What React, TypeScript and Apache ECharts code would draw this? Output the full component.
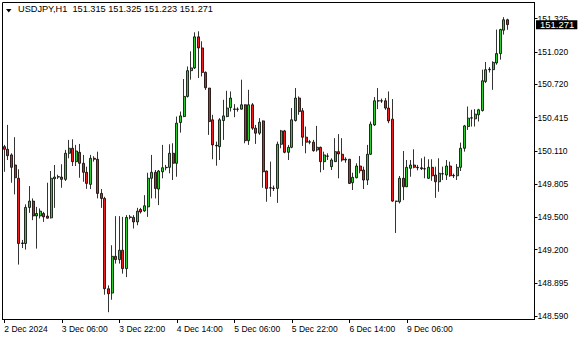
import React, { useEffect, useRef } from "react";
import * as echarts from "echarts";

const symbol = "USDJPY,H1";

const opens = [150.148,150.124,150.072,149.979,149.857,149.257,149.257,149.589,149.647,149.511,149.511,149.533,149.509,149.493,149.853,149.868,149.868,149.847,150.087,150.133,150.010,150.096,149.995,149.912,149.801,150.041,150.032,149.718,149.672,148.841,148.801,149.139,149.109,149.195,149.026,149.497,149.497,149.456,149.570,149.557,149.594,149.857,149.912,149.758,149.917,149.954,149.958,150.087,149.995,150.370,150.425,150.610,150.847,150.872,151.158,151.056,150.831,150.687,150.395,150.160,150.148,150.388,150.425,150.508,150.495,150.491,150.493,150.533,150.203,150.533,150.318,150.272,150.385,149.924,149.770,149.767,149.764,150.170,150.293,150.096,150.142,150.388,150.595,150.478,150.235,150.189,150.189,150.118,150.142,150.010,150.062,149.964,150.010,150.102,150.078,150.025,150.032,149.816,149.862,149.970,149.933,149.841,150.078,150.348,150.570,150.568,150.570,150.503,150.401,149.647,149.641,149.857,149.779,149.949,149.979,149.958,149.954,149.945,149.857,149.958,149.887,149.825,149.899,149.887,149.970,149.880,149.880,149.958,150.133,150.333,150.413,150.404,150.441,150.480,150.748,150.856,150.856,150.918,151.004,151.219,151.315];
const highs = [150.164,150.348,150.087,150.235,149.940,149.290,149.617,149.785,149.672,149.594,149.580,149.548,149.816,149.924,149.979,149.890,149.986,150.118,150.210,150.216,150.164,150.173,150.072,149.964,150.072,150.060,150.102,149.758,149.687,148.872,149.241,149.509,149.509,149.502,149.518,149.520,149.518,149.585,149.585,149.702,149.908,150.072,149.933,149.933,150.164,149.980,150.170,150.179,150.425,150.471,150.770,150.886,151.025,151.200,151.209,151.117,150.840,150.687,150.441,150.194,150.410,150.579,150.662,150.656,150.539,150.510,150.764,150.537,150.671,150.549,150.348,150.410,150.389,149.928,150.010,149.790,150.194,150.302,150.302,150.164,150.503,150.687,150.610,150.503,150.333,150.210,150.210,150.339,150.148,150.102,150.087,150.041,150.226,150.263,150.226,150.050,150.035,149.908,149.995,150.062,149.964,150.164,150.379,150.604,150.687,150.590,150.595,150.656,150.586,149.650,149.878,150.108,150.025,150.025,150.124,149.980,150.041,150.056,150.032,150.032,149.964,150.041,149.964,150.025,150.010,149.900,149.988,150.185,150.348,150.517,150.487,150.493,150.496,150.856,150.927,150.880,150.933,151.225,151.232,151.339,151.325];
const lows = [149.917,150.025,149.816,149.709,149.063,149.215,149.201,149.539,149.472,149.210,149.487,149.456,149.487,149.487,149.585,149.850,149.770,149.832,150.041,149.970,149.970,149.862,149.825,149.760,149.758,150.010,149.672,149.585,148.786,148.625,148.740,149.072,149.072,148.980,148.948,149.480,149.395,149.425,149.533,149.548,149.502,149.672,149.672,149.610,149.857,149.930,149.903,149.841,149.871,150.277,150.419,150.600,150.764,150.862,150.779,150.794,150.670,150.256,150.032,149.973,150.025,150.210,150.419,150.471,150.419,150.470,150.489,150.179,150.164,150.302,150.173,150.256,149.770,149.641,149.687,149.740,149.631,150.133,150.087,150.025,150.133,150.379,150.441,150.155,150.087,150.170,150.102,150.102,149.912,149.933,150.025,149.933,150.008,149.857,150.010,150.000,149.804,149.749,149.857,149.903,149.758,149.795,150.072,150.339,150.493,150.550,150.487,150.364,149.641,149.354,149.626,149.656,149.776,149.871,149.949,149.930,149.933,149.857,149.850,149.834,149.677,149.733,149.841,149.841,149.871,149.860,149.841,149.924,150.102,150.302,150.333,150.333,150.379,150.471,150.733,150.830,150.671,150.902,150.948,151.179,151.223];
const closes = [150.124,150.065,149.958,149.862,149.257,149.262,149.589,149.647,149.511,149.533,149.555,149.502,149.490,149.857,149.868,149.872,149.847,150.087,150.133,150.010,150.108,149.995,149.912,149.810,150.041,150.032,149.718,149.672,148.841,148.795,149.139,149.109,149.195,149.026,149.497,149.502,149.456,149.555,149.548,149.604,149.857,149.912,149.764,149.924,149.954,149.958,150.087,149.995,150.364,150.431,150.610,150.847,150.872,151.158,151.056,150.831,150.690,150.379,150.164,150.155,150.395,150.431,150.503,150.595,150.491,150.493,150.533,150.203,150.533,150.318,150.272,150.373,149.917,149.764,149.767,149.764,150.170,150.293,150.096,150.142,150.395,150.595,150.471,150.235,150.189,150.193,150.111,150.142,150.010,150.072,150.060,150.025,150.102,150.081,150.025,150.032,149.810,149.866,149.970,149.927,149.841,150.078,150.355,150.570,150.568,150.570,150.503,150.385,149.647,149.645,149.857,149.779,149.958,149.979,149.958,149.954,149.945,149.943,149.958,149.880,149.825,149.903,149.897,149.970,149.880,149.884,149.958,150.133,150.339,150.410,150.411,150.447,150.487,150.754,150.856,150.860,150.923,151.004,151.225,151.315,151.271];

const slotCount = 148;
const tickIndex = [0, 16, 32, 48, 64, 80, 96, 112];
const tickLabels = ["2 Dec 2024", "3 Dec 06:00", "3 Dec 22:00", "4 Dec 14:00", "5 Dec 06:00", "5 Dec 22:00", "6 Dec 14:00", "9 Dec 06:00"];
const yTicks = [148.59, 148.895, 149.2, 149.5, 149.805, 150.11, 150.415, 150.72, 151.02, 151.325];

const FONT = "Liberation Sans";

export default function App() {
  const ref = useRef<HTMLDivElement>(null);
  useEffect(() => {
    if (!ref.current) return;
    const chart = echarts.init(ref.current, undefined, { renderer: "svg" });
    const slots = Array.from({ length: slotCount }, (_, i) => String(i));
    const data = opens.map((o, i) => [o, closes[i], lows[i], highs[i]]);
    const last = opens.length - 1;
    const header = `${symbol}  ${opens[last].toFixed(3)} ${highs[last].toFixed(3)} ${lows[last].toFixed(3)} ${closes[last].toFixed(3)}`;
    const isTick = (i: number) => tickIndex.includes(i);
    chart.setOption({
      animation: false,
      backgroundColor: "#ffffff",
      grid: { left: 2.5, right: 45.5, top: 2.5, bottom: 20.5, show: true, borderColor: "#000", borderWidth: 1, backgroundColor: "transparent" },
      xAxis: {
        type: "category",
        data: slots,
        boundaryGap: true,
        axisLine: { show: true, lineStyle: { color: "#000", width: 1 } },
        axisTick: { show: true, alignWithLabel: true, interval: (i: number) => isTick(i), length: 3.5, lineStyle: { color: "#000" } },
        axisLabel: {
          show: true,
          interval: (i: number) => isTick(i),
          formatter: (_v: string, i: number) => tickLabels[tickIndex.indexOf(i)] ?? "",
          align: "left",
          margin: 5,
          color: "#000",
          fontSize: 8.5,
          fontFamily: FONT,
          hideOverlap: false,
        },
        splitLine: { show: false },
      },
      yAxis: {
        type: "value",
        position: "right",
        min: 148.558,
        max: 151.474,
        axisLine: { show: true, lineStyle: { color: "#000", width: 1 } },
        axisTick: { show: true, customValues: yTicks, length: 3, lineStyle: { color: "#000" } },
        axisLabel: { show: true, customValues: yTicks, formatter: (v: number) => v.toFixed(3), margin: 3, color: "#000", fontSize: 8.5, fontFamily: FONT },
        splitLine: { show: false },
      },
      series: [
        {
          type: "candlestick",
          data,
          barWidth: 2.5,
          clip: false,
          itemStyle: { color: "#2ecc2e", color0: "#ee1c1c", borderColor: "#000", borderColor0: "#000", borderWidth: 0.8 },
          markLine: {
            silent: true,
            symbol: "none",
            z: 10,
            lineStyle: { color: "rgba(0,0,0,0)", width: 1, type: "solid" },
            emphasis: { disabled: true },
            data: [{ yAxis: closes[last] }],
            label: {
              show: true,
              position: "end",
              distance: 1.5,
              formatter: closes[last].toFixed(3),
              backgroundColor: "#000",
              color: "#fff",
              padding: [0, 3, 0, 4],
              lineHeight: 9,
              fontSize: 9.5,
              fontFamily: FONT,
            },
          },
        },
      ],
      graphic: [
        { type: "polygon", shape: { points: [[6, 9], [11.5, 9], [8.75, 12.5]] }, style: { fill: "#000" }, z: 100 },
        { type: "text", x: 18, y: 4.5, style: { text: header, fill: "#000", fontSize: 9.2, fontFamily: FONT }, z: 100 },
      ],
    });
    return () => chart.dispose();
  }, []);
  return <div ref={ref} style={{ position: "fixed", left: 0, top: 0, width: 580, height: 340 }} />;
}
